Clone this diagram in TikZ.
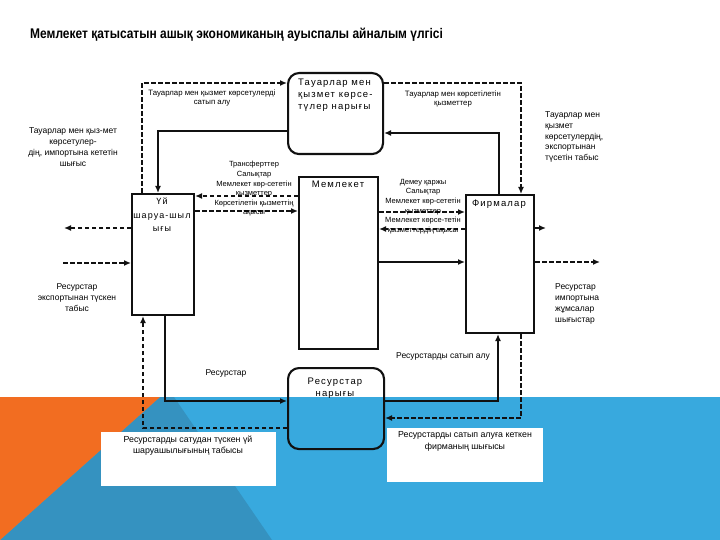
\documentclass[tikz,border=0pt]{standalone}
\usepackage{fontspec}
\usepackage{graphicx}
\setmainfont{Liberation Sans}
\newfontfamily\boxfont[LetterSpace=12]{Liberation Sans}
\usetikzlibrary{arrows.meta,calc}
\definecolor{orng}{HTML}{F26D21}
\definecolor{lblue}{HTML}{38A9DE}
\definecolor{dblue}{HTML}{3592C0}
\definecolor{ink}{HTML}{111111}
\begin{document}
\begin{tikzpicture}[x=1pt,y=-1pt,
  sol/.style={draw=ink,line width=2.1pt,-{Latex[length=7pt,width=6pt]}},
  dsh/.style={draw=ink,line width=2.1pt,dash pattern=on 4.5pt off 2.5pt,-{Latex[length=7pt,width=6pt]}},
  boxsq/.style={draw=ink,line width=2.1pt,anchor=north west,inner sep=0pt},
  boxrd/.style={boxsq,rounded corners=11pt},
  btxt/.style={font=\boxfont\fontsize{9.5}{12}\selectfont,inner sep=0pt},
  lblsm/.style={font=\fontsize{7.5}{9.6}\selectfont,align=center,inner sep=0pt},
  lblmd/.style={font=\fontsize{8.5}{11}\selectfont,inner sep=0pt},
]
\useasboundingbox (0,0) rectangle (720,540);
\fill[white] (0,0) rectangle (720,540);
% background decoration
\fill[lblue] (0,397) rectangle (720,540);
\fill[dblue] (160,397) -- (174,397) -- (272,540) -- (0,540) -- cycle;
\fill[orng] (0,397) -- (160,397) -- (0,540) -- cycle;
\fill[white] (101,432) rectangle (276,486);
\fill[white] (387,428) rectangle (543,482);

% title
\node[anchor=west,inner sep=0pt] (title) at (30,35) {\fontsize{14}{16}\selectfont\bfseries\scalebox{0.855}[1]{Мемлекет қатысатын ашық экономиканың ауыспалы айналым үлгісі}};

% boxes
\node[boxrd,minimum width=95pt,minimum height=81pt] (tm) at (287,72) {};
\node[boxsq,minimum width=79pt,minimum height=172pt] (mem) at (298,176) {};
\node[boxsq,minimum width=62pt,minimum height=121pt] (uy) at (131,193) {};
\node[boxsq,minimum width=68pt,minimum height=138pt] (firm) at (465,194) {};
\node[boxrd,minimum width=96pt,minimum height=81pt] (rm) at (287,367) {};

% box texts
\node[btxt,anchor=west,align=left] (tmtxt) at (298,95) {Тауарлар мен\\қызмет көрсе-\\түлер нарығы};
\node[btxt] (memtxt) at (338,184) {Мемлекет};
\node[btxt,align=center,font=\boxfont\fontsize{9}{13.5}\selectfont] (uytxt) at (162,215) {Үй\\шаруа-шыл\\ығы};
\node[btxt] (firmtxt) at (499,204) {Фирмалар};
\node[btxt,align=center] (rmtxt) at (335,388) {Ресурстар\\нарығы};

% connectors top
\draw[dsh] ($(uy.north west)+(11,0)$) |- ($(tm.north west)+(0,11)$);
\draw[sol] ($(tm.north west)+(0,59)$) -| ($(uy.north west)+(27,0)$);
\draw[dsh] ($(tm.north east)+(0,11)$) -| ($(firm.north west)+(56,0)$);
\draw[sol] ($(firm.north west)+(34,0)$) |- ($(tm.north east)+(0,61)$);

% middle connectors
\draw[dsh] ($(mem.north west)+(0,20)$) -- ($(uy.north east)+(0,3)$);
\draw[dsh] ($(uy.north east)+(0,18)$) -- ($(mem.north west)+(0,35)$);
\draw[dsh] ($(mem.north east)+(0,36)$) -- ($(firm.north west)+(0,18)$);
\draw[dsh] ($(firm.north west)+(0,35)$) -- ($(mem.north east)+(0,53)$);
\draw[sol] ($(mem.north east)+(0,86)$) -- ($(firm.north west)+(0,68)$);

% side connectors
\coordinate (stubend) at (546,228);
\draw[sol] ($(firm.north east)+(0,34)$) -- (stubend);
\coordinate (rexp) at (600,262);
\draw[dsh] ($(firm.north east)+(0,68)$) -- (rexp);
\coordinate (gimp) at (64,228);
\draw[dsh] ($(uy.north west)+(0,35)$) -- (gimp);
\coordinate (rinc) at (63,263);
\draw[dsh] (rinc) -- ($(uy.north west)+(0,70)$);

% bottom connectors
\draw[dsh] ($(rm.north west)+(0,61)$) -| ($(uy.south west)+(12,0)$);
\draw[sol] ($(uy.south west)+(34,0)$) |- ($(rm.north west)+(0,34)$);
\draw[sol] ($(rm.north east)+(0,34)$) -| ($(firm.south west)+(33,0)$);
\draw[dsh] ($(firm.south west)+(56,0)$) |- ($(rm.north east)+(0,51)$);

% labels
\node[lblsm,font=\fontsize{7.8}{9.6}\selectfont] (l1) at (212,98) {Тауарлар мен қызмет көрсетулерді\\сатып алу};
\node[lblsm,font=\fontsize{7.8}{9.6}\selectfont] (l2) at (453,99) {Тауарлар мен көрсетілетін\\қызметтер};
\node[lblmd,align=center] (l3) at (73,147.5) {Тауарлар мен қыз-мет\\көрсетулер-\\дің, импортына кететін\\шығыс};
\node[lblmd,align=left,anchor=west,font=\fontsize{8.5}{10.8}\selectfont] (l4) at (545,137) {Тауарлар мен\\қызмет\\көрсетулердің,\\экспортынан\\түсетін табыс};
\node[lblsm] (l5) at (254,189) {Трансферттер\\Салықтар\\Мемлекет көр-сететін\\қызметтер\\Көрсетілетін қызметтің\\ақысы};
\node[lblsm] (l6) at (423,206.5) {Демеу қаржы\\Салықтар\\Мемлекет көр-сететін\\қызметтер\\Мемлекет көрсе-тетін\\қызметтердің ақысы};
\node[lblmd,align=center] (l7) at (77,297.5) {Ресурстар\\экспортынан түскен\\табыс};
\node[lblmd,align=left,anchor=west] (l8) at (555,303.5) {Ресурстар\\импортына\\жұмсалар\\шығыстар};
\node[lblmd] (l9) at (226,373) {Ресурстар};
\node[lblmd] (l10) at (443,356) {Ресурстарды сатып алу};
\node[lblmd,align=center,font=\fontsize{8.8}{11}\selectfont] (l11) at (188,446) {Ресурстарды сатудан түскен үй\\шаруашылығының табысы};
\node[lblmd,align=center,font=\fontsize{8.8}{12}\selectfont] (l12) at (465,441) {Ресурстарды сатып алуға кеткен\\фирманың шығысы};
\end{tikzpicture}
\end{document}
